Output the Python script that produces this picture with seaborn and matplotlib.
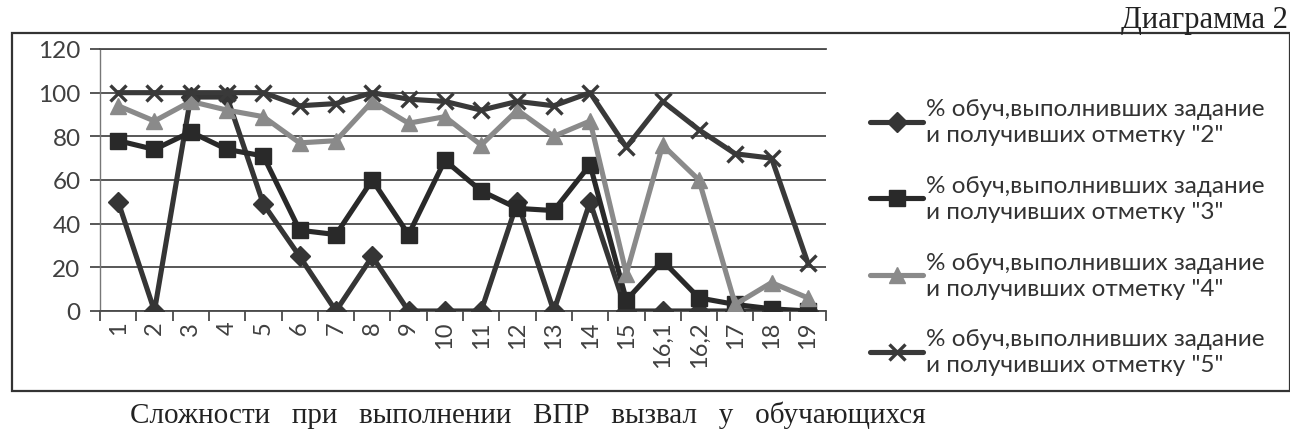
import numpy as np
import matplotlib
matplotlib.use("Agg")
import matplotlib.pyplot as plt
from matplotlib.patches import Rectangle
import seaborn as sns

# номера заданий ВПР
tasks = ["1", "2", "3", "4", "5", "6", "7", "8", "9", "10", "11", "12", "13",
         "14", "15", "16,1", "16,2", "17", "18", "19"]

# % обучающихся, выполнивших задание, по полученной отметке
grade2 = [50, 0, 98, 98, 49, 25, 0, 25, 0, 0, 0, 50, 0, 50, 0, 0, 0, 0, 0, 0]
grade3 = [78, 74, 82, 74, 71, 37, 35, 60, 35, 69, 55, 47, 46, 67, 5, 23, 6, 3, 1, 0]
grade4 = [94, 87, 96, 92, 89, 77, 78, 96, 86, 89, 76, 92, 80, 87, 17, 76, 60, 3, 13, 6]
grade5 = [100, 100, 100, 100, 100, 94, 95, 100, 97, 96, 92, 96, 94, 100, 75, 96, 83, 72, 70, 22]

series_labels = [
    '% обуч,выполнивших задание\nи получивших отметку "2"',
    '% обуч,выполнивших задание\nи получивших отметку "3"',
    '% обуч,выполнивших задание\nи получивших отметку "4"',
    '% обуч,выполнивших задание\nи получивших отметку "5"',
]

y_ticks = [0, 20, 40, 60, 80, 100, 120]

sns.set_theme(style="white")
plt.rcParams["font.family"] = ["Lato", "DejaVu Sans"]

W, H = 1290, 431
fig = plt.figure(figsize=(W / 100, H / 100), dpi=100)
fig.patch.set_facecolor("white")

# область построения (в пикселях)
ax = fig.add_axes([100 / W, 1 - 312 / H, 726 / W, 262 / H])

grid_c = "#4a4a4a"
styles = [
    dict(marker="D", color="#353535", markersize=10.5, mew=1),
    dict(marker="s", color="#292929", markersize=11.5, mew=1),
    dict(marker="^", color="#8a8a8a", markersize=12, mew=1),
    dict(marker="x", color="#393939", markersize=12, mew=2.4),
]

pos = np.arange(len(tasks))
for vals, lab, st in zip([grade2, grade3, grade4, grade5], series_labels, styles):
    sns.lineplot(x=pos, y=vals, ax=ax, color=st["color"], marker=st["marker"],
                 markersize=st["markersize"], markeredgecolor=st["color"],
                 markeredgewidth=st["mew"], linewidth=3.7, label=lab, zorder=3)

ax.set_xlim(-0.5, len(tasks) - 0.5)
ax.set_ylim(0, 120)
ax.set_yticks(y_ticks)
ax.set_xticks(pos, tasks, rotation=90)
ax.set_xticks(np.arange(len(tasks) + 1) - 0.5, minor=True)
ax.grid(axis="y", color=grid_c, linewidth=1.3)
ax.grid(axis="x", visible=False)

for side in ["top", "bottom"]:
    ax.spines[side].set_color(grid_c)
    ax.spines[side].set_linewidth(1.3)
ax.spines["left"].set_color("#777777")
ax.spines["left"].set_linewidth(1.0)
ax.spines["right"].set_visible(False)

ax.tick_params(axis="y", which="major", direction="out", length=7, width=1.3,
               color=grid_c, pad=7, labelsize=17.5, labelcolor="#404040", left=True)
ax.tick_params(axis="x", which="major", length=0, pad=7, labelsize=17,
               labelcolor="#404040")
ax.tick_params(axis="x", which="minor", direction="out", length=7, width=1.3,
               color=grid_c, bottom=True)

ax.set_xlabel("")
ax.set_ylabel("")

leg = ax.legend(loc="upper left", bbox_to_anchor=(870 / W, 1 - 99 / H),
                bbox_transform=fig.transFigure, frameon=False, fontsize=17.5,
                handlelength=2.2, handletextpad=0.12, labelspacing=1.22,
                borderpad=0, borderaxespad=0, labelcolor="#333333")
for t in leg.get_texts():
    t.set_linespacing(1.3)

# рамка диаграммы
fig.add_artist(Rectangle((12 / W, 1 - 392 / H), (W - 12) / W, (392 - 34) / H,
                         transform=fig.transFigure, fill=False,
                         edgecolor="#333333", linewidth=1.6))

fig.text(1288 / W, 1 - 28 / H, "Диаграмма 2", ha="right", va="baseline",
         family="Liberation Serif", fontsize=22, color="#222222")
fig.text(130 / W, 1 - 423 / H,
         "Сложности   при   выполнении   ВПР   вызвал   у   обучающихся",
         ha="left", va="baseline", family="Liberation Serif", fontsize=21,
         color="#222222")

fig.savefig("out.png", dpi=100, facecolor="white")
